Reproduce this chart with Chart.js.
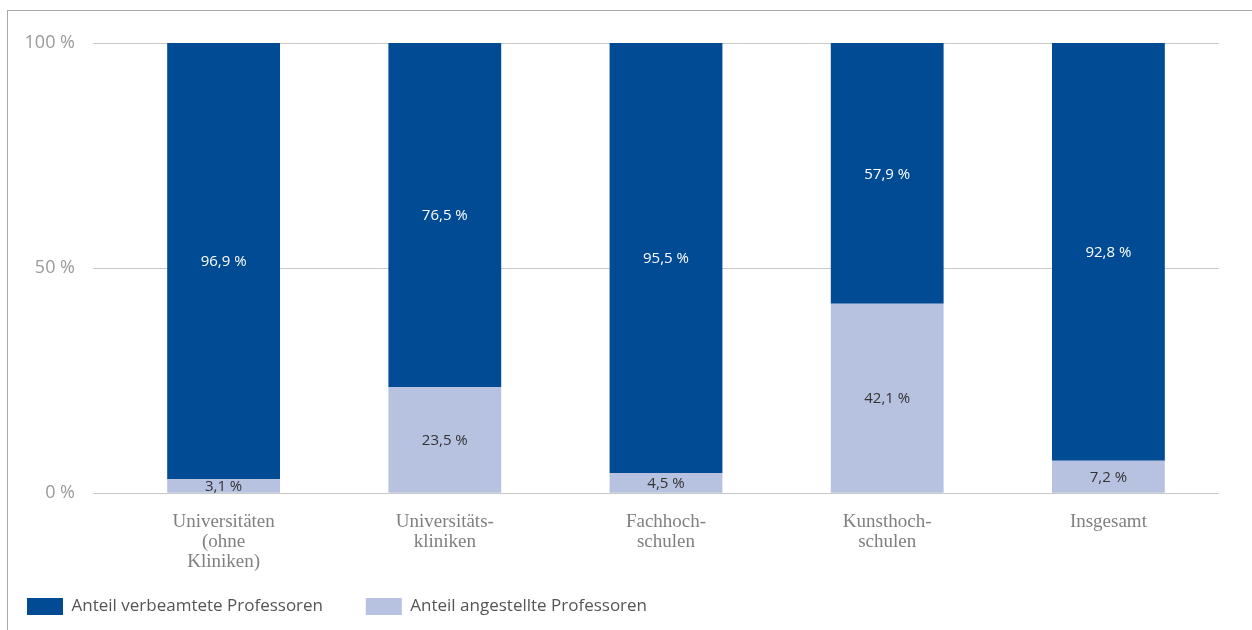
<!DOCTYPE html>
<html>
<head>
<meta charset="utf-8">
<script src="https://cdn.jsdelivr.net/npm/chart.js@4"></script>
<style>
  body { margin: 0; background: #fff; }
  #frame {
    position: absolute; left: 7px; top: 10px;
    width: 1245px; height: 620px;
    border-left: 1px solid #aaa; border-top: 1px solid #aaa;
  }
  #frame canvas { display: block; }
</style>
</head>
<body>
<div id="frame"><canvas id="prof-chart" width="1244" height="619"></canvas></div>
<script>
// categories (x axis) and shares in percent
const categories = [
    ['Universitäten', '(ohne', 'Kliniken)'],
    ['Universitäts-', 'kliniken'],
    ['Fachhoch-', 'schulen'],
    ['Kunsthoch-', 'schulen'],
    'Insgesamt'
];
const verbeamtet = [96.9, 76.5, 95.5, 57.9, 92.8];
const angestellt = [3.1, 23.5, 4.5, 42.1, 7.2];
const yTicks = [0, 50, 100];

function fmt(v) {
    return v.toFixed(1).replace('.', ',') + ' %';
}

// small inline plugin for the value labels in the middle of each segment
const segmentLabels = {
    id: 'segmentLabels',
    afterDatasetsDraw(chart) {
        const ctx = chart.ctx;
        ctx.save();
        ctx.font = '15px "Open Sans"';
        ctx.textAlign = 'center';
        ctx.textBaseline = 'middle';
        chart.data.datasets.forEach((ds, i) => {
            const meta = chart.getDatasetMeta(i);
            meta.data.forEach((bar, j) => {
                const mid = (bar.y + bar.base) / 2;
                ctx.fillStyle = ds.labelColor;
                ctx.fillText(fmt(ds.data[j]), bar.x, mid + 1);
            });
        });
        ctx.restore();
    }
};

const data = {
    labels: categories,
    datasets: [{
        label: 'Anteil angestellte Professoren',
        data: angestellt,
        backgroundColor: '#b7c2e0',
        labelColor: '#333333',
    }, {
        // extra spaces widen the first legend item a bit
        label: 'Anteil verbeamtete Professoren\u2002\u2002\u2002\u2005',
        data: verbeamtet,
        backgroundColor: '#004b93',
        labelColor: '#ffffff',
    }]
};

const config = {
    type: 'bar',
    data: data,
    plugins: [segmentLabels],
    options: {
        responsive: false,
        animation: false,
        layout: {
            padding: { top: 32, left: 6, right: 33, bottom: 5 }
        },
        datasets: {
            bar: {
                barPercentage: 0.51,
                categoryPercentage: 1.0,
            }
        },
        scales: {
            x: {
                stacked: true,
                grid: { display: false },
                border: { display: false },
                afterFit: (axis) => { axis.height += 2; },
                ticks: {
                    color: '#808080',
                    padding: 11,
                    maxRotation: 0,
                    font: { family: '"Liberation Serif"', size: 19, lineHeight: 1.05 }
                }
            },
            y: {
                stacked: true,
                min: 0,
                max: 100,
                afterBuildTicks: (axis) => {
                    axis.ticks = yTicks.map(v => ({ value: v }));
                },
                afterFit: (axis) => { axis.width = 99; },
                grid: {
                    color: '#c8c8c8',
                    tickLength: 20,
                    tickColor: '#c8c8c8',
                },
                border: { display: false },
                ticks: {
                    color: '#9a9a9a',
                    padding: 18,
                    font: { family: '"Open Sans"', size: 18 },
                    callback: (v) => v + ' %'
                }
            }
        },
        plugins: {
            legend: {
                position: 'bottom',
                align: 'start',
                reverse: true,
                labels: {
                    boxWidth: 36,
                    boxHeight: 17,
                    padding: 13,
                    color: '#555555',
                    font: { family: '"Open Sans"', size: 17 }
                }
            },
            tooltip: { enabled: false }
        }
    }
};

new Chart(document.getElementById('prof-chart').getContext('2d'), config);
</script>
</body>
</html>
